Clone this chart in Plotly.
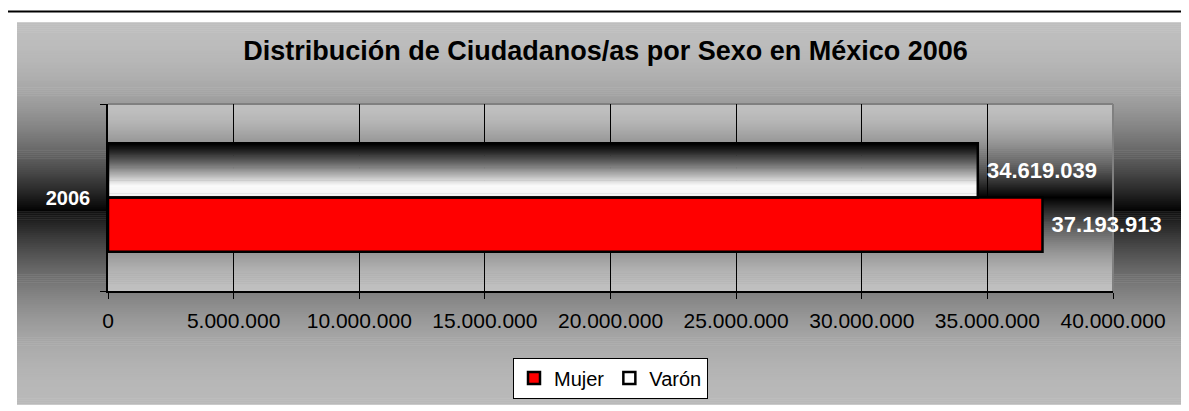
import plotly.graph_objects as go

# ---- data ----
YEARS = ["2006"]
SERIES = ["Mujer", "Varón"]
MUJER = [37193913]
VARON = [34619039]
X_MAX = 40000000
X_STEP = 5000000
TITLE = "Distribución de Ciudadanos/as por Sexo en México 2006"

FONT = "Arial, 'Liberation Sans', sans-serif"

# ---- layout geometry (pixels, in page coordinates; the page body adds an 8px offset) ----
OFF = 8
W, H = 1189 - OFF, 411 - OFF
PL, PR, PT, PB = 108 - OFF, 1113 - OFF, 104 - OFF, 294 - OFF
BARGAP = 0.42


def px(xp):  # page x -> paper
    return (xp - OFF - PL) / (PR - PL)


def py(yp):  # page y -> paper
    return (PB - (yp - OFF)) / (PB - PT)


def gray(v):
    v = int(max(0, min(255, round(v))))
    return f"rgb({v},{v},{v})"


shapes = []

# chart-area background: vertical gradient (light -> black -> light)
G_TOP, G_MID, G_BOT = 21, 213, 408
step = 2
yy = G_TOP
while yy < G_BOT:
    if yy < G_MID:
        t = (yy - G_TOP) / (G_MID - G_TOP)
        v = 190 * (1 - t ** 2.0)
    else:
        t = (yy - G_MID) / (G_BOT - G_MID)
        v = 18 + 167 * (1 - (1 - t) ** 2.0)
    shapes.append(dict(type="rect", xref="paper", yref="paper",
                       x0=px(17), x1=px(1200), y0=py(yy + step + 0.6), y1=py(yy),
                       fillcolor=gray(v), line=dict(width=0), layer="below"))
    yy += step

# plot-area background: its own vertical gradient (light edges, black centre)
P_TOP, P_BOT = 104, 294
P_MID = (P_TOP + P_BOT) / 2
half = (P_BOT - P_TOP) / 2
step = 2
yy = P_TOP
while yy < P_BOT:
    c = yy + step / 2
    t = 1 - abs(c - P_MID) / half  # 0 at edges, 1 at centre
    v = 192 * (1 - t ** 1.7)
    shapes.append(dict(type="rect", xref="paper", yref="paper",
                       x0=0, x1=1, y0=py(min(P_BOT, yy + step + 0.6)), y1=py(yy),
                       fillcolor=gray(v), line=dict(width=0), layer="below"))
    yy += step

# gradient inside the Varón bar (top black -> white)
w = (1 - BARGAP) / 2
N = 50
for k in range(N):
    s = (k + 0.5) / N  # fraction from top
    if s < 0.78:
        v = 250 * (s / 0.78) ** 1.15
    else:
        v = 250 - 8 * (s - 0.78) / 0.22
    y_top = w * (1 - k / N)
    y_bot = w * (1 - (k + 1.6) / N)
    shapes.append(dict(type="rect", xref="x", yref="y", x0=0, x1=VARON[0],
                       y0=max(0, y_bot), y1=y_top, fillcolor=gray(v),
                       line=dict(width=0), layer="between"))

# plot border (top & right) in gray, under the bar labels
shapes.append(dict(type="line", xref="paper", yref="paper", x0=0, x1=1, y0=1, y1=1,
                   line=dict(color="#808080", width=2), layer="between"))
shapes.append(dict(type="line", xref="paper", yref="paper", x0=1, x1=1, y0=0, y1=1,
                   line=dict(color="#808080", width=2), layer="between"))

# outer black frame (top)
shapes.append(dict(type="line", xref="paper", yref="paper", x0=px(0), x1=px(1200),
                   y0=py(10), y1=py(10), line=dict(color="black", width=2), layer="above"))

fig = go.Figure()
fig.add_trace(go.Bar(
    name=SERIES[0], y=YEARS, x=MUJER, orientation="h",
    marker=dict(color="#ff0000", line=dict(color="black", width=2.5)),
    texttemplate=" %{x:,d}", textposition="outside",
    textfont=dict(family=FONT, size=22, color="white", weight="bold"),
    cliponaxis=False,
))
fig.add_trace(go.Bar(
    name=SERIES[1], y=YEARS, x=VARON, orientation="h",
    marker=dict(color="rgba(255,255,255,0)", line=dict(color="black", width=2.5)),
    texttemplate=" %{x:,d}", textposition="outside",
    textfont=dict(family=FONT, size=22, color="white", weight="bold"),
    cliponaxis=False,
))

fig.update_layout(
    width=W, height=H,
    margin=dict(l=PL, r=W - PR, t=PT, b=H - PB),
    paper_bgcolor="white", plot_bgcolor="rgba(0,0,0,0)",
    separators=",.",
    barmode="group", bargap=BARGAP, bargroupgap=0,
    font=dict(family=FONT, color="black"),
    title=dict(text=TITLE, x=(605.5 - OFF) / W, xref="container", xanchor="center",
               y=1 - (51 - OFF) / H, yref="container", yanchor="middle",
               font=dict(family=FONT, size=27, color="black", weight="bold")),
    showlegend=True,
    legend=dict(orientation="h", x=px(610.5), xanchor="center", y=py(382.5), yanchor="middle",
                bgcolor="white", bordercolor="black", borderwidth=1,
                font=dict(family=FONT, size=20, color="black"),
                itemwidth=30, traceorder="normal"),
    shapes=shapes,
)

fig.update_xaxes(
    range=[0, X_MAX], dtick=X_STEP, tick0=0, tickformat=",d",
    showgrid=True, gridcolor="black", gridwidth=1, zeroline=False,
    showline=True, linecolor="black", linewidth=1.5,
    ticks="outside", ticklen=6, tickcolor="black", tickwidth=1,
    ticklabelstandoff=4,
    tickfont=dict(family=FONT, size=21, color="black"),
)
fig.update_yaxes(
    type="category", showgrid=False, zeroline=False,
    showline=True, linecolor="black", linewidth=1.5,
    ticks="outside", ticklen=6, tickcolor="black", tickson="boundaries",
    ticklabelstandoff=12,
    tickfont=dict(family=FONT, size=20, color="white", weight="bold"),
)

fig.write_html("out.html")
